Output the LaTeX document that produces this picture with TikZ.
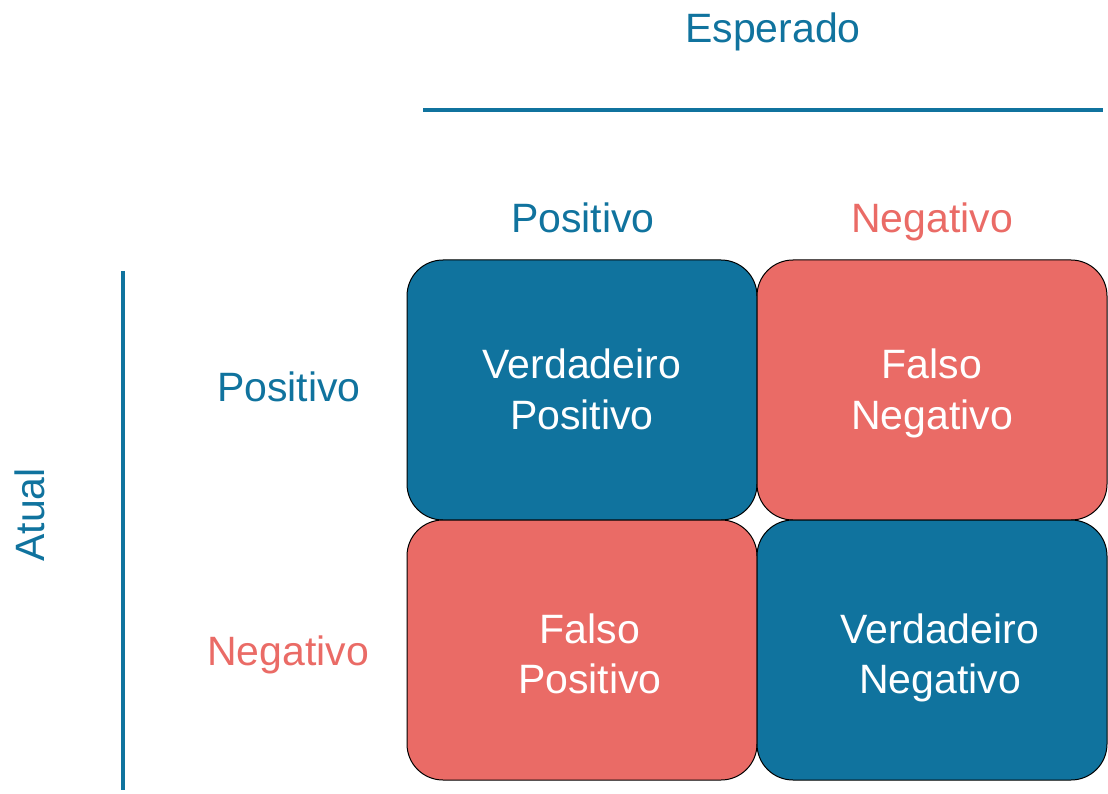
\documentclass[tikz,border=0pt]{standalone}
\usepackage{fontspec}
\setmainfont{Liberation Sans}
\definecolor{cblue}{HTML}{10739E}
\definecolor{cred}{HTML}{EA6B66}
\begin{document}
\begin{tikzpicture}[x=1pt,y=-1pt,
  cell/.style={draw=black, line width=1pt, rounded corners=36pt, minimum width=350pt, minimum height=260pt, inner sep=0pt},
  lbl/.style={font=\fontsize{41}{49}\selectfont, anchor=base, inner sep=0pt},
  axis/.style={draw=cblue, line width=4pt}]
\useasboundingbox (0,0) rectangle (1108,794);
% boxes
\node[cell, fill=cblue] (tp) at (582,390) {};
\node[cell, fill=cred] (fn) at (932,390) {};
\node[cell, fill=cred] (fp) at (582,650) {};
\node[cell, fill=cblue] (tn) at (932,650) {};
% box texts
\node[lbl, text=white] (tp1) at (582,378) {Verdadeiro};
\node[lbl, text=white] (tp2) at (582,429) {Positivo};
\node[lbl, text=white] (fn1) at (932,378) {Falso};
\node[lbl, text=white] (fn2) at (932,429) {Negativo};
\node[lbl, text=white] (fp1) at (590,643) {Falso};
\node[lbl, text=white] (fp2) at (590,693) {Positivo};
\node[lbl, text=white] (tn1) at (940,643) {Verdadeiro};
\node[lbl, text=white] (tn2) at (940,693) {Negativo};
% headers
\node[lbl, text=cblue] (esp) at (773,43) {Esperado};
\node[lbl, text=cblue] (hpos) at (583,233) {Positivo};
\node[lbl, text=cred] (hneg) at (932,233) {Negativo};
\node[lbl, text=cblue] (rpos) at (289,401) {Positivo};
\node[lbl, text=cred] (rneg) at (288,665) {Negativo};
\node[lbl, text=cblue, rotate=90] (atual) at (44,515) {Atual};
% axis lines
\coordinate (h1) at (423,110);
\coordinate (h2) at (1103,110);
\coordinate (v1) at (123,271);
\coordinate (v2) at (123,790);
\draw[axis] (h1) -- (h2);
\draw[axis] (v1) -- (v2);
\end{tikzpicture}
\end{document}
